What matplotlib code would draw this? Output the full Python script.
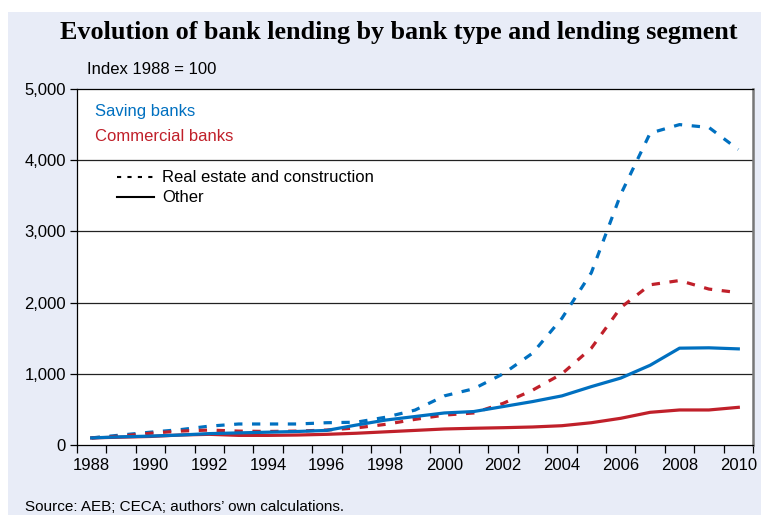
import numpy as np
import matplotlib
matplotlib.use("Agg")
import matplotlib.pyplot as plt
from matplotlib.lines import Line2D
from matplotlib.patches import Rectangle

plt.rcParams['font.family'] = ['Liberation Sans', 'DejaVu Sans']

# data (index 1988 = 100)
years = list(range(1988, 2011))
saving_real_estate = [100, 140, 180, 215, 265, 295, 295, 295, 313, 320, 390, 490, 690,
                      790, 1000, 1290, 1780, 2420, 3520, 4380, 4500, 4460, 4150]
commercial_real_estate = [100, 125, 165, 195, 210, 195, 190, 195, 210, 240, 290, 360, 420,
                          450, 585, 770, 1000, 1360, 1930, 2250, 2310, 2190, 2140]
saving_other = [100, 115, 125, 140, 160, 170, 180, 190, 205, 280, 350, 400, 450,
                470, 540, 610, 690, 820, 940, 1120, 1360, 1365, 1350]
commercial_other = [100, 110, 120, 140, 150, 135, 135, 140, 150, 165, 185, 205, 225,
                    235, 243, 253, 271, 313, 375, 459, 492, 492, 529]
label_years = list(range(1988, 2011, 2))
y_ticks = [0, 1000, 2000, 3000, 4000, 5000]

blue = '#0070C0'
red = '#C0202A'
bg = '#E8ECF7'

fig = plt.figure(figsize=(7.61, 5.15), dpi=100)
fig.patch.set_facecolor('white')
fig.patches.append(Rectangle((8 / 761, 0), 1, (515 - 12) / 515, transform=fig.transFigure,
                             facecolor=bg, edgecolor='none', zorder=-10))

ax = fig.add_axes([77 / 761, (515 - 445) / 515, (753 - 77) / 761, (445 - 89) / 515])
ax.set_facecolor('white')

dash = (0, (2.6, 3.0))
lw = 2.3
ax.plot(years, saving_real_estate, color=blue, lw=lw, linestyle=dash, zorder=3)
ax.plot(years, commercial_real_estate, color=red, lw=lw, linestyle=dash, zorder=3)
ax.plot(years, commercial_other, color=red, lw=lw, zorder=4)
ax.plot(years, saving_other, color=blue, lw=lw, zorder=4)

ax.set_xlim(1987.5, 2010.5)
ax.set_ylim(0, 5000)

# gridlines
for y in y_ticks[1:-1]:
    ax.axhline(y, color='#222222', lw=0.9, zorder=1)

ax.set_yticks(y_ticks)
ax.set_yticklabels([f'{v:,}' for v in y_ticks], fontsize=12)
ax.tick_params(axis='y', direction='out', length=5, width=0.9, pad=3)

# tick marks at year boundaries, labels at year centres
ax.set_xticks(np.arange(1987.5, 2011, 1))
ax.set_xticklabels([])
ax.set_xticks(label_years, minor=True)
ax.set_xticklabels([str(y) for y in label_years], minor=True, fontsize=12)
ax.tick_params(axis='x', which='major', direction='out', length=6, width=0.9)
ax.tick_params(axis='x', which='minor', length=0, pad=9)

for s in ['left', 'top', 'bottom']:
    ax.spines[s].set_linewidth(0.9)
ax.spines['right'].set_color('#777777')
ax.spines['right'].set_linewidth(1.8)

# series labels
ax.text(0.027, 0.937, 'Saving banks', color=blue, fontsize=12, transform=ax.transAxes, va='center')
ax.text(0.027, 0.866, 'Commercial banks', color=red, fontsize=12, transform=ax.transAxes, va='center')

handles = [Line2D([], [], color='black', lw=1.5, linestyle=(0, (2, 3))),
           Line2D([], [], color='black', lw=1.5)]
ax.legend(handles, ['Real estate and construction', 'Other'], loc='upper left',
          bbox_to_anchor=(0.05, 0.79), frameon=False, fontsize=12, handlelength=2.2,
          handletextpad=0.5, labelspacing=0.3, borderaxespad=0)

fig.text(399 / 761, 1 - 32 / 515, 'Evolution of bank lending by bank type and lending segment',
         family='Liberation Serif', weight='bold', fontsize=18.8, ha='center', va='center')
fig.text(87 / 761, 1 - 70 / 515, 'Index 1988 = 100', fontsize=12, va='center')
fig.text(25 / 761, 1 - 507 / 515, 'Source: AEB; CECA; authors\u2019 own calculations.',
         fontsize=11, va='center')

fig.savefig('out.png', dpi=100, facecolor=fig.get_facecolor())
